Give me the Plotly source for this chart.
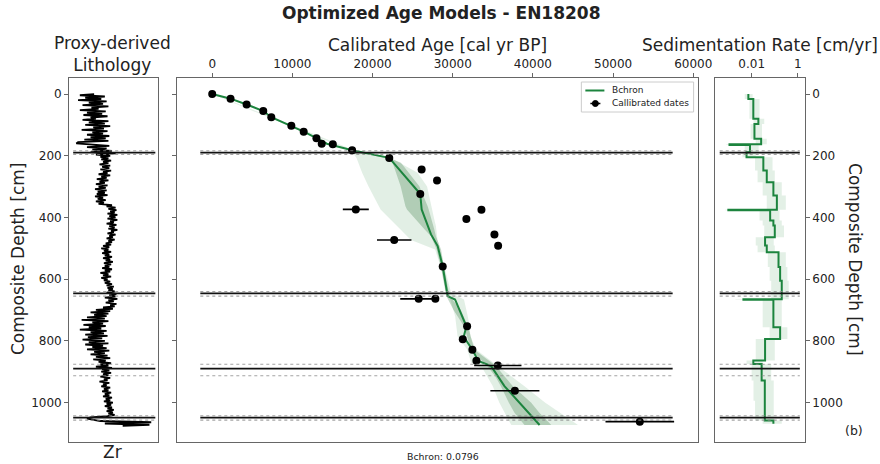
import plotly.graph_objects as go

# ---------------- data ----------------
# Proxy-derived lithology: Zr (arbitrary units), sampled every 4 cm from 0 to 1076 cm
zr_step_cm = 4
zr_value = [
    28, 12, 40, 18, 36, 10, 42, 22, 38, 15, 44, 25, 33, 12, 41, 20, 37, 16, 43, 24,
    30, 15, 44, 22, 40, 18, 46, 27, 39, 14, 43, 26, 38, 20, 45, 24, 41, 17, 44, 10,
    8, 30, 45, 20, 42, 26, 48, 24, 52, 30, 46, 35, 44, 36, 47, 38, 44, 34, 46, 37,
    45, 35, 47, 38, 43, 33, 46, 36, 42, 31, 44, 34, 40, 30, 43, 33, 41, 29, 42, 32,
    40, 31, 43, 29, 38, 32, 41, 30, 39, 33, 48, 42, 52, 44, 53, 46, 51, 43, 54, 45,
    52, 43, 54, 46, 50, 42, 53, 45, 51, 44, 54, 47, 50, 43, 52, 45, 49, 42, 51, 44,
    48, 41, 47, 38, 45, 36, 44, 39, 47, 37, 45, 40, 48, 38, 46, 41, 49, 39, 47, 40,
    45, 37, 48, 40, 46, 35, 44, 38, 47, 36, 43, 39, 46, 40, 48, 42, 50, 43, 49, 44,
    51, 42, 53, 45, 52, 40, 54, 44, 50, 41, 53, 46, 51, 38, 49, 30, 46, 24, 44, 28,
    42, 20, 40, 14, 44, 26, 38, 16, 41, 22, 36, 12, 42, 24, 39, 18, 43, 21, 37, 15,
    40, 22, 44, 18, 38, 26, 42, 20, 45, 28, 40, 24, 43, 30, 46, 27, 41, 33, 47, 35,
    44, 30, 48, 37, 45, 36, 47, 38, 44, 35, 46, 39, 43, 34, 45, 38, 42, 36, 46, 39,
    44, 37, 47, 40, 45, 38, 48, 41, 46, 39, 49, 42, 47, 40, 48, 43, 50, 42, 49, 44,
    51, 43, 24, 20, 30, 35, 92, 40, 90, 60]
zr_depth = [i * zr_step_cm for i in range(len(zr_value))]

# Calibrated dates: age [cal yr BP], depth [cm], age error
date_age = [0, 2290, 4290, 6370, 7370, 9870, 11410, 13000, 13660, 15040, 17450, 22080, 26120, 28040,
            25950, 17910, 33580, 31700, 35200, 22700, 35660, 28750, 25750, 27830, 31790, 31250, 32450,
            32950, 35620, 37750, 53330]
date_depth = [0, 15, 34, 55, 75, 103, 122, 143, 161, 163, 182, 207, 245, 280,
              324, 374, 375, 405, 455, 473, 492, 559, 664, 664, 753, 795, 829,
              865, 880, 962, 1062]
date_err = [0, 0, 0, 0, 0, 0, 0, 0, 0, 0, 0, 0, 0, 0,
            0, 1620, 0, 0, 0, 2150, 0, 0, 2300, 0, 0, 0, 0,
            0, 2950, 3060, 4280]

# Bchron median age-depth model
med_depth = [0, 15, 34, 55, 75, 103, 122, 143, 161, 182, 207, 324, 374, 455, 493, 559, 655, 666,
             753, 787, 829, 865, 882, 947, 1073]
med_age = [0, 2290, 4290, 6370, 7370, 9870, 11410, 13000, 14300, 17450, 22080, 25950, 26120, 27290,
           28120, 28750, 29370, 30290, 31700, 31370, 32450, 33200, 34790, 36450, 40830]

# Bchron outer envelope
outer_depth = [0, 100, 182, 207, 255, 300, 374, 407, 428, 473, 504, 569, 645, 666, 720, 753, 785,
               828, 871, 893, 947, 1000, 1073]
outer_lo = [0, 9300, 17300, 18000, 18700, 19500, 21000, 22300, 23100, 24790, 27800, 28600, 29200,
            29700, 30300, 30500, 30600, 31800, 32300, 33800, 35000, 35800, 37300]
outer_hi = [100, 9900, 17700, 22300, 25620, 26800, 27400, 27700, 27900, 28100, 28400, 29000, 29800,
            31400, 31870, 32100, 32200, 32900, 35000, 36200, 38950, 41500, 45620]

# Bchron inner envelope
inner_depth = [182, 210, 223, 299, 364, 374, 439, 461, 504, 559, 655, 700, 753, 829, 882, 915, 947,
               1001, 1033, 1073]
inner_lo = [17450, 22000, 22500, 23500, 24100, 24290, 26500, 27290, 28000, 28500, 29200, 30100,
            31400, 32300, 34300, 35300, 36000, 37000, 37700, 38950]
inner_hi = [17450, 22300, 23540, 25830, 26870, 27000, 27700, 27900, 28540, 28900, 29600, 31000,
            31900, 32700, 35400, 36450, 37500, 39790, 40800, 42290]

# Sedimentation rate [cm/yr] (step segments between depth edges)
sr_edges = [0, 16, 80, 97, 145, 163, 165, 189, 205, 248, 286, 329, 375, 377, 410, 426, 464, 491,
            513, 561, 605, 665, 667, 756, 794, 864, 875, 886, 929, 994, 1058, 1069]
sr_med = [0.0072, 0.0118, 0.0195, 0.0132, 0.0257, 0.0011, 0.0085, 0.006, 0.032, 0.045, 0.087,
          0.123, 0.00098, 0.063, 0.087, 0.10, 0.038, 0.045, 0.145, 0.17, 0.20, 0.0044, 0.087,
          0.17, 0.038, 0.0118, 0.027, 0.027, 0.037, 0.037, 0.087]
sr_lo = [0.005, 0.008, 0.012, 0.009, 0.015, 0.0008, 0.005, 0.004, 0.014, 0.018, 0.03,
         0.045, 0.0007, 0.022, 0.03, 0.035, 0.015, 0.018, 0.05, 0.06, 0.07, 0.002, 0.03,
         0.06, 0.015, 0.006, 0.01, 0.01, 0.012, 0.014, 0.03]
sr_hi = [0.011, 0.022, 0.035, 0.028, 0.045, 0.004, 0.02, 0.015, 0.08, 0.1, 0.2,
         0.3, 0.004, 0.16, 0.2, 0.25, 0.09, 0.1, 0.3, 0.35, 0.4, 0.02, 0.2,
         0.35, 0.1, 0.03, 0.07, 0.07, 0.09, 0.09, 0.2]

# Event layers (depths in cm)
ev_center = [190, 646, 890, 1049]
ev_top = [184, 640, 876, 1043]
ev_bot = [196, 655, 913, 1057]

depth_ticks = [0, 200, 400, 600, 800, 1000]
age_ticks = [0, 10000, 20000, 30000, 40000, 50000, 60000]
sr_ticks = [0.01, 1]
sr_ticklabels = ["0.01", "1"]

# ---------------- figure ----------------
W, H = 880, 464
WE = 863  # effective horizontal layout width observed in the rendered page
GREEN = "rgb(28,132,62)"
FONT = "DejaVu Sans"
fig = go.Figure()

fig.add_trace(go.Scatter(x=zr_value, y=zr_depth, mode="lines",
                         line=dict(color="black", width=1.8),
                         xaxis="x", yaxis="y", showlegend=False))

fig.add_trace(go.Scatter(x=outer_lo + outer_hi[::-1], y=outer_depth + outer_depth[::-1],
                         fill="toself", fillcolor="rgba(60,150,80,0.15)", line=dict(width=0),
                         mode="lines", xaxis="x2", yaxis="y2", showlegend=False, hoverinfo="skip"))
fig.add_trace(go.Scatter(x=inner_lo + inner_hi[::-1], y=inner_depth + inner_depth[::-1],
                         fill="toself", fillcolor="rgba(50,120,60,0.28)", line=dict(width=0),
                         mode="lines", xaxis="x2", yaxis="y2", showlegend=False, hoverinfo="skip"))
fig.add_trace(go.Scatter(x=med_age, y=med_depth, mode="lines", name="Bchron",
                         line=dict(color=GREEN, width=2), xaxis="x2", yaxis="y2", showlegend=False))
fig.add_trace(go.Scatter(x=date_age, y=date_depth, mode="markers", name="Callibrated dates",
                         marker=dict(color="black", size=8),
                         error_x=dict(type="data", array=date_err, color="black", thickness=1.6, width=0),
                         xaxis="x2", yaxis="y2", showlegend=False))

sx, sy, blo, bhi, bd = [], [], [], [], []
for i, v in enumerate(sr_med):
    sx += [v, v]
    sy += [sr_edges[i], sr_edges[i + 1]]
    blo += [sr_lo[i], sr_lo[i]]
    bhi += [sr_hi[i], sr_hi[i]]
    bd += [sr_edges[i], sr_edges[i + 1]]
fig.add_trace(go.Scatter(x=blo + bhi[::-1], y=bd + bd[::-1], fill="toself",
                         fillcolor="rgba(60,150,80,0.14)", line=dict(width=0), mode="lines",
                         xaxis="x3", yaxis="y3", showlegend=False, hoverinfo="skip"))
fig.add_trace(go.Scatter(x=sx, y=sy, mode="lines", line=dict(color=GREEN, width=2),
                         xaxis="x3", yaxis="y3", showlegend=False))

spans = {"x": (0.045, 0.966), "x2": (0.044, 0.952), "x3": (0.056, 0.944)}
yrefs = {"x": "y", "x2": "y2", "x3": "y3"}
shapes = []
for ax, (a, b) in spans.items():
    for c, t, bt in zip(ev_center, ev_top, ev_bot):
        for yy in (t, bt):
            shapes.append(dict(type="line", xref=f"{ax} domain", yref=yrefs[ax], x0=a, x1=b, y0=yy, y1=yy,
                               line=dict(color="rgba(140,140,140,0.8)", width=1.1, dash="dot"), layer="above"))
        shapes.append(dict(type="line", xref=f"{ax} domain", yref=yrefs[ax], x0=a, x1=b, y0=c, y1=c,
                           line=dict(color="#111", width=1.8), layer="above"))

def px(x):
    return x / WE
def py(y):
    return 1 - y / H

# Hand-drawn legend box (paper coords)
shapes.append(dict(type="rect", xref="paper", yref="paper", x0=px(580), x1=px(692), y0=py(82), y1=py(112),
                   line=dict(color="#cccccc", width=1), fillcolor="white", layer="above"))
shapes.append(dict(type="line", xref="paper", yref="paper", x0=px(584), x1=px(603), y0=py(90.5), y1=py(90.5),
                   line=dict(color=GREEN, width=2), layer="above"))
shapes.append(dict(type="line", xref="paper", yref="paper", x0=px(589), x1=px(599), y0=py(103.5), y1=py(103.5),
                   line=dict(color="black", width=1.5), layer="above"))
shapes.append(dict(type="circle", xref="paper", yref="paper", x0=px(591), x1=px(597), y0=py(100.5), y1=py(106.5),
                   line=dict(color="black", width=1), fillcolor="black", layer="above"))

yb, yt = py(442), py(78)
yrange = [1128, -52]
frame = dict(showline=True, mirror=True, linecolor="#666", linewidth=1, showgrid=False, zeroline=False)
tickfont = dict(family=FONT, size=12, color="#222")

fig.update_layout(
    width=W, height=H, margin=dict(l=0, r=0, t=0, b=0), autosize=False,
    paper_bgcolor="white", plot_bgcolor="white",
    font=dict(family=FONT, color="#222"),
    shapes=shapes, showlegend=False,
    xaxis=dict(domain=[px(69), px(158)], anchor="y", side="top", range=[0, 100],
               showticklabels=False, ticks="", **frame),
    yaxis=dict(domain=[yb, yt], anchor="x", range=yrange, tickvals=depth_ticks, ticks="outside",
               ticklen=4, tickcolor="#666", tickfont=tickfont, **frame),
    xaxis2=dict(domain=[px(177), px(696)], anchor="y2", side="top", range=[-4340, 60540],
                tickvals=age_ticks, tickformat="d", ticks="outside", ticklen=4, tickcolor="#666",
                tickfont=tickfont, **frame),
    yaxis2=dict(domain=[yb, yt], anchor="x2", range=yrange, tickvals=depth_ticks, ticks="outside",
                ticklen=4, tickcolor="#666", showticklabels=False, **frame),
    xaxis3=dict(domain=[px(713), px(803)], anchor="y3", side="top", type="log", range=[-3.6, 0.3],
                tickvals=sr_ticks, ticktext=sr_ticklabels, ticks="outside", ticklen=4, tickcolor="#666",
                tickfont=tickfont, **frame),
    yaxis3=dict(domain=[yb, yt], anchor="x3", side="right", range=yrange, tickvals=depth_ticks,
                ticks="outside", ticklen=4, tickcolor="#666", tickfont=tickfont, **frame),
)

def txt(text, x, y, size, bold=False, angle=0, xanchor="center"):
    fig.add_annotation(text=f"<b>{text}</b>" if bold else text, x=px(x), y=py(y),
                       xref="paper", yref="paper", showarrow=False, textangle=angle,
                       font=dict(family=FONT, size=size, color="#222"),
                       xanchor=xanchor, yanchor="middle")

txt("Optimized Age Models - EN18208", 440, 13, 17, bold=True)
txt("Proxy-derived<br>Lithology", 112, 54, 17)
txt("Calibrated Age [cal yr BP]", 436, 45, 17)
txt("Sedimentation Rate [cm/yr]", 758, 45, 17)
txt("Composite Depth [cm]", 18, 259, 17, angle=-90)
txt("Composite Depth [cm]", 853, 260, 17, angle=90)
txt("Zr", 112, 452, 17)
txt("Bchron: 0.0796", 442, 456, 9.4)
txt("(b)", 852, 430, 12.5)
txt("Bchron", 609, 90.5, 9, xanchor="left")
txt("Callibrated dates", 609, 103.5, 9, xanchor="left")

fig.write_html("out.html", config={"responsive": False})
